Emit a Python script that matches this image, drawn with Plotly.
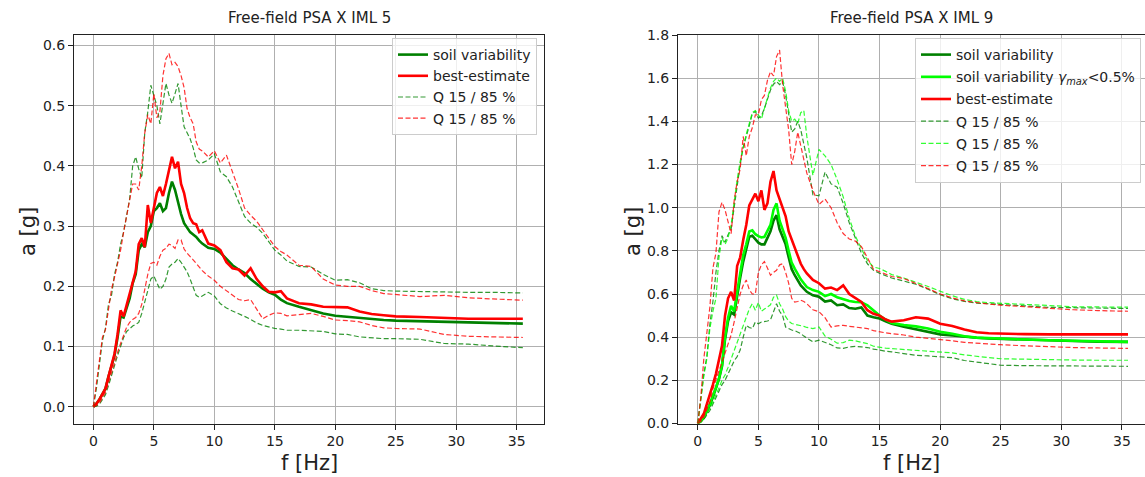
import plotly.graph_objects as go

# ---------------- data ----------------
freq = [0, 0.25, 0.5, 0.75, 1.0, 1.25, 1.5, 1.75, 2.0, 2.25, 2.5, 2.75, 3.0, 3.25, 3.5, 3.75,
        4.0, 4.25, 4.5, 4.75, 5.0, 5.25, 5.5, 5.75, 6.0, 6.25, 6.5, 6.75, 7.0, 7.25, 7.5, 7.75,
        8.0, 8.25, 8.5, 8.75, 9.0, 9.5, 10.0, 10.5, 11.0, 11.5, 12.0, 12.5, 13.0, 13.5, 14.0,
        14.5, 15.0, 15.5, 16.0, 17.0, 18.0, 19.0, 20.0, 21.0, 22.0, 23.0, 24.0, 25.0, 27.0,
        29.0, 31.0, 33.0, 35.5]

# IML 5 (left)
l_soil = [0, 0.005, 0.012, 0.02, 0.03, 0.05, 0.068, 0.085, 0.115, 0.15, 0.148, 0.165, 0.18, 0.205, 0.22, 0.26,
          0.27, 0.265, 0.29, 0.30, 0.325, 0.33, 0.338, 0.325, 0.33, 0.355, 0.374, 0.36, 0.338, 0.32, 0.305, 0.298,
          0.29, 0.286, 0.282, 0.276, 0.271, 0.264, 0.262, 0.256, 0.246, 0.235, 0.228, 0.222, 0.212, 0.204, 0.196,
          0.19, 0.186, 0.178, 0.172, 0.166, 0.16, 0.155, 0.151, 0.149, 0.147, 0.145, 0.144, 0.143, 0.142,
          0.141, 0.140, 0.139, 0.138]
l_best = [0, 0.005, 0.012, 0.02, 0.03, 0.05, 0.07, 0.088, 0.12, 0.16, 0.15, 0.17, 0.185, 0.21, 0.225, 0.27,
          0.28, 0.265, 0.335, 0.305, 0.33, 0.355, 0.365, 0.35, 0.37, 0.39, 0.415, 0.396, 0.407, 0.37, 0.355, 0.33,
          0.313, 0.305, 0.303, 0.29, 0.293, 0.271, 0.268, 0.26, 0.24, 0.23, 0.228, 0.218, 0.23, 0.212, 0.2,
          0.191, 0.19, 0.192, 0.18, 0.172, 0.17, 0.166, 0.165, 0.165, 0.158, 0.154, 0.152, 0.15, 0.149,
          0.147, 0.146, 0.146, 0.146]
l_soil_q85 = [0, 0.03, 0.07, 0.11, 0.13, 0.17, 0.185, 0.22, 0.24, 0.27, 0.29, 0.32, 0.345, 0.40, 0.415, 0.395,
              0.38, 0.455, 0.49, 0.534, 0.515, 0.5, 0.47, 0.5, 0.537, 0.518, 0.504, 0.52, 0.537, 0.5, 0.465, 0.455,
              0.445, 0.43, 0.41, 0.405, 0.405, 0.41, 0.42, 0.39, 0.382, 0.365, 0.34, 0.316, 0.305, 0.298, 0.288,
              0.275, 0.26, 0.252, 0.242, 0.233, 0.232, 0.22, 0.21, 0.211, 0.206, 0.196, 0.193, 0.192, 0.191,
              0.19, 0.19, 0.19, 0.189]
l_soil_q15 = [0, 0.001, 0.004, 0.012, 0.02, 0.035, 0.053, 0.07, 0.085, 0.1, 0.115, 0.125, 0.13, 0.134, 0.137, 0.14,
              0.155, 0.175, 0.195, 0.212, 0.217, 0.205, 0.195, 0.2, 0.212, 0.232, 0.237, 0.24, 0.246, 0.24, 0.232, 0.224,
              0.212, 0.198, 0.185, 0.182, 0.184, 0.19, 0.184, 0.171, 0.164, 0.159, 0.155, 0.15, 0.145, 0.139, 0.135,
              0.132, 0.13, 0.129, 0.127, 0.127, 0.126, 0.125, 0.121, 0.12, 0.116, 0.114, 0.113, 0.113, 0.112,
              0.105, 0.104, 0.101, 0.098]
l_best_q85 = [0, 0.04, 0.08, 0.115, 0.128, 0.16, 0.195, 0.215, 0.238, 0.26, 0.29, 0.315, 0.34, 0.37, 0.37, 0.36,
              0.4, 0.455, 0.485, 0.47, 0.52, 0.48, 0.49, 0.55, 0.578, 0.587, 0.568, 0.572, 0.565, 0.55, 0.53, 0.495,
              0.48, 0.47, 0.44, 0.428, 0.425, 0.415, 0.425, 0.405, 0.418, 0.39, 0.362, 0.33, 0.318, 0.308, 0.295,
              0.28, 0.266, 0.258, 0.252, 0.235, 0.233, 0.212, 0.202, 0.2, 0.2, 0.193, 0.188, 0.186, 0.183,
              0.185, 0.181, 0.179, 0.177]
l_best_q15 = [0, 0.002, 0.006, 0.015, 0.024, 0.04, 0.058, 0.075, 0.09, 0.105, 0.12, 0.132, 0.14, 0.145, 0.148, 0.155,
              0.17, 0.195, 0.22, 0.238, 0.24, 0.235, 0.25, 0.26, 0.263, 0.27, 0.268, 0.263, 0.277, 0.277, 0.262, 0.255,
              0.25, 0.244, 0.238, 0.232, 0.226, 0.217, 0.21, 0.2, 0.193, 0.186, 0.178, 0.176, 0.178, 0.162, 0.146,
              0.152, 0.156, 0.155, 0.151, 0.153, 0.155, 0.15, 0.144, 0.143, 0.141, 0.135, 0.131, 0.13, 0.129,
              0.12, 0.117, 0.116, 0.115]

# IML 9 (right)
r_soil = [0, 0.01, 0.028, 0.055, 0.085, 0.122, 0.16, 0.205, 0.265, 0.39, 0.475, 0.515, 0.505, 0.595, 0.675, 0.75,
          0.81, 0.865, 0.87, 0.855, 0.838, 0.83, 0.83, 0.86, 0.89, 0.94, 0.965, 0.9, 0.86, 0.83, 0.77, 0.715,
          0.687, 0.66, 0.64, 0.625, 0.61, 0.594, 0.587, 0.565, 0.57, 0.548, 0.552, 0.535, 0.532, 0.538, 0.5,
          0.492, 0.486, 0.473, 0.462, 0.448, 0.436, 0.425, 0.413, 0.408, 0.401, 0.397, 0.394, 0.392, 0.387,
          0.384, 0.382, 0.379, 0.378]
r_soil05 = [0, 0.01, 0.03, 0.06, 0.09, 0.13, 0.165, 0.21, 0.27, 0.4, 0.49, 0.545, 0.52, 0.61, 0.69, 0.78,
            0.83, 0.89, 0.895, 0.877, 0.868, 0.862, 0.865, 0.893, 0.92, 0.99, 1.02, 0.94, 0.895, 0.86, 0.8, 0.745,
            0.718, 0.69, 0.668, 0.65, 0.632, 0.618, 0.61, 0.59, 0.6, 0.585, 0.575, 0.568, 0.563, 0.562, 0.548,
            0.525, 0.5, 0.482, 0.466, 0.456, 0.45, 0.44, 0.425, 0.416, 0.404, 0.398, 0.395, 0.393, 0.389,
            0.386, 0.383, 0.38, 0.378]
r_best = [0, 0.02, 0.045, 0.09, 0.13, 0.18, 0.23, 0.29, 0.36, 0.5, 0.58, 0.61, 0.57, 0.73, 0.77, 0.85,
          0.92, 1.01, 1.04, 1.065, 1.03, 1.08, 0.99, 1.02, 1.12, 1.17, 1.08, 1.04, 1.01, 0.96, 0.89, 0.85,
          0.82, 0.78, 0.74, 0.715, 0.695, 0.665, 0.65, 0.625, 0.63, 0.618, 0.64, 0.6, 0.58, 0.563, 0.525,
          0.508, 0.5, 0.482, 0.472, 0.478, 0.492, 0.486, 0.462, 0.452, 0.436, 0.423, 0.418, 0.416, 0.414,
          0.413, 0.413, 0.413, 0.413]
r_soil_q85 = [0, 0.12, 0.23, 0.31, 0.46, 0.565, 0.7, 0.8, 0.87, 0.84, 0.875, 0.9, 1.0, 1.11, 1.2, 1.28,
              1.337, 1.38, 1.435, 1.446, 1.415, 1.425, 1.46, 1.5, 1.545, 1.572, 1.585, 1.57, 1.585, 1.52, 1.44, 1.35,
              1.365, 1.4, 1.36, 1.29, 1.23, 1.06, 1.055, 1.165, 1.11, 1.095, 1.02, 0.93, 0.86, 0.79, 0.74,
              0.71, 0.696, 0.685, 0.674, 0.66, 0.645, 0.622, 0.597, 0.578, 0.566, 0.558, 0.554, 0.552, 0.545,
              0.538, 0.536, 0.534, 0.533]
r_soil05_q85 = [0, 0.11, 0.22, 0.3, 0.44, 0.52, 0.58, 0.77, 0.86, 0.83, 0.86, 0.92, 1.03, 1.13, 1.215, 1.28,
                1.34, 1.39, 1.44, 1.45, 1.43, 1.41, 1.46, 1.51, 1.555, 1.585, 1.6, 1.585, 1.6, 1.54, 1.45, 1.4,
                1.41, 1.39, 1.44, 1.45, 1.33, 1.15, 1.27, 1.24, 1.2, 1.13, 1.05, 0.95, 0.87, 0.81, 0.755,
                0.725, 0.718, 0.705, 0.69, 0.674, 0.655, 0.635, 0.613, 0.592, 0.575, 0.565, 0.56, 0.557, 0.55,
                0.544, 0.541, 0.54, 0.539]
r_best_q85 = [0, 0.12, 0.3, 0.43, 0.54, 0.72, 0.79, 0.98, 1.025, 0.99, 0.93, 0.88, 1.03, 1.12, 1.18, 1.33,
              1.24, 1.33, 1.37, 1.43, 1.43, 1.5, 1.52, 1.59, 1.63, 1.61, 1.7, 1.73, 1.57, 1.47, 1.36, 1.2,
              1.26, 1.35, 1.29, 1.22, 1.16, 1.08, 1.015, 1.04, 1.0, 0.93, 0.88, 0.855, 0.845, 0.82, 0.77,
              0.715, 0.703, 0.692, 0.681, 0.672, 0.65, 0.625, 0.6, 0.582, 0.568, 0.56, 0.553, 0.548, 0.54,
              0.533, 0.527, 0.523, 0.52]
r_soil_q15 = [0, 0.008, 0.02, 0.04, 0.06, 0.09, 0.12, 0.15, 0.18, 0.2, 0.23, 0.26, 0.29, 0.31, 0.34, 0.4,
              0.455, 0.445, 0.44, 0.47, 0.462, 0.47, 0.472, 0.475, 0.48, 0.52, 0.555, 0.52, 0.5, 0.447, 0.44, 0.433,
              0.43, 0.423, 0.417, 0.405, 0.395, 0.378, 0.386, 0.375, 0.365, 0.35, 0.348, 0.355, 0.357, 0.355, 0.352,
              0.345, 0.339, 0.335, 0.332, 0.325, 0.316, 0.313, 0.31, 0.305, 0.292, 0.285, 0.276, 0.27, 0.268,
              0.267, 0.266, 0.265, 0.265]
r_soil05_q15 = [0, 0.01, 0.025, 0.045, 0.07, 0.1, 0.13, 0.165, 0.2, 0.225, 0.26, 0.3, 0.33, 0.37, 0.41, 0.46,
                0.49, 0.53, 0.555, 0.525, 0.56, 0.52, 0.53, 0.54, 0.55, 0.585, 0.595, 0.555, 0.53, 0.495, 0.475, 0.463,
                0.46, 0.458, 0.455, 0.45, 0.445, 0.44, 0.447, 0.405, 0.39, 0.372, 0.375, 0.386, 0.383, 0.378, 0.37,
                0.358, 0.352, 0.349, 0.347, 0.343, 0.34, 0.335, 0.332, 0.327, 0.318, 0.31, 0.305, 0.3, 0.297,
                0.295, 0.294, 0.293, 0.293]
r_best_q15 = [0, 0.01, 0.03, 0.07, 0.1, 0.16, 0.2, 0.25, 0.29, 0.325, 0.36, 0.41, 0.47, 0.54, 0.6, 0.64,
              0.665, 0.62, 0.6, 0.6, 0.7, 0.735, 0.75, 0.72, 0.687, 0.7, 0.71, 0.735, 0.74, 0.7, 0.65, 0.58,
              0.562, 0.565, 0.571, 0.565, 0.555, 0.527, 0.518, 0.49, 0.447, 0.452, 0.455, 0.45, 0.447, 0.442, 0.44,
              0.43, 0.424, 0.42, 0.416, 0.41, 0.4, 0.395, 0.39, 0.383, 0.376, 0.372, 0.368, 0.365, 0.36,
              0.355, 0.352, 0.35, 0.348]

titles = ["Free-field PSA X IML 5", "Free-field PSA X IML 9"]
x_label = "f [Hz]"
y_label = "a [g]"
left_yticks = [0.0, 0.1, 0.2, 0.3, 0.4, 0.5, 0.6]
right_yticks = [0.0, 0.2, 0.4, 0.6, 0.8, 1.0, 1.2, 1.4, 1.6, 1.8]
xticks = [0, 5, 10, 15, 20, 25, 30, 35]

# ---------------- styles ----------------
GREEN = "#008000"
LIME = "#00ff00"
RED = "#ff0000"
FONT = "DejaVu Sans"
W, H = 1145, 477

fig = go.Figure()


def add(x, y, color, name, xa, ya, dash=False, legend="legend", show=True, group=None, rank=1):
    fig.add_trace(go.Scatter(
        x=x, y=y, mode="lines", name=name, xaxis=xa, yaxis=ya,
        line=dict(color=color, width=1.2 if dash else 2.6, dash="5px,2.5px" if dash else "solid"),
        opacity=0.8 if dash else 1.0,
        legend=legend, showlegend=show, legendgroup=group, legendrank=rank,
    ))


# left panel
add(freq, l_soil, GREEN, "soil variability", "x", "y", group="a", rank=1)
add(freq, l_best, RED, "best-estimate", "x", "y", group="b", rank=2)
add(freq, l_soil_q85, GREEN, "Q 15 / 85 %", "x", "y", dash=True, group="c", rank=3)
add(freq, l_soil_q15, GREEN, "Q 15 / 85 %", "x", "y", dash=True, show=False, group="c", rank=3)
add(freq, l_best_q85, RED, "Q 15 / 85 %", "x", "y", dash=True, group="d", rank=4)
add(freq, l_best_q15, RED, "Q 15 / 85 %", "x", "y", dash=True, show=False, group="d", rank=4)

# right panel
gam = "soil variability <i>γ</i><sub><i>max</i></sub>&lt;0.5%"
add(freq, r_soil, GREEN, "soil variability", "x2", "y2", legend="legend2", group="e", rank=1)
add(freq, r_soil05, LIME, gam, "x2", "y2", legend="legend2", group="f", rank=2)
add(freq, r_best, RED, "best-estimate", "x2", "y2", legend="legend2", group="g", rank=3)
add(freq, r_soil_q85, GREEN, "Q 15 / 85 %", "x2", "y2", dash=True, legend="legend2", group="h", rank=4)
add(freq, r_soil_q15, GREEN, "Q 15 / 85 %", "x2", "y2", dash=True, legend="legend2", show=False, group="h", rank=4)
add(freq, r_soil05_q85, LIME, "Q 15 / 85 %", "x2", "y2", dash=True, legend="legend2", group="i", rank=5)
add(freq, r_soil05_q15, LIME, "Q 15 / 85 %", "x2", "y2", dash=True, legend="legend2", show=False, group="i", rank=5)
add(freq, r_best_q85, RED, "Q 15 / 85 %", "x2", "y2", dash=True, legend="legend2", group="j", rank=6)
add(freq, r_best_q15, RED, "Q 15 / 85 %", "x2", "y2", dash=True, legend="legend2", show=False, group="j", rank=6)

# pixel geometry
L1, R1 = 74, 544
L2 = 678
TOP, BOT = 35, 423.5
ydom = [1 - BOT / H, 1 - TOP / H]

axis_common = dict(
    showgrid=True, gridcolor="#b0b0b0", gridwidth=0.8, automargin=False,
    zeroline=False, showline=True, linecolor="#222222", linewidth=1,
    ticks="outside", ticklen=5, tickwidth=1, tickcolor="#222222",
    tickfont=dict(family=FONT, size=14, color="#222222"),
)

fig.update_layout(
    template="none",
    width=W, height=H, margin=dict(l=0, r=0, t=0, b=0, pad=0, autoexpand=False),
    paper_bgcolor="white", plot_bgcolor="white",
    font=dict(family=FONT, color="#222222"),
    xaxis=dict(domain=[L1 / W, R1 / W], range=[-1.6, 37.25], tickvals=xticks,
               anchor="y", mirror=True, **axis_common),
    yaxis=dict(domain=ydom, range=[-0.0279, 0.6175], tickvals=left_yticks,
               ticktext=[f"{v:.1f}" for v in left_yticks], anchor="x", mirror=True, **axis_common),
    xaxis2=dict(domain=[L2 / W, 1.0], range=[-1.63, (W - 698.5) / 12.1], tickvals=xticks,
                anchor="y2", mirror=True, **axis_common),
    yaxis2=dict(domain=ydom, range=[0, 1.8], tickvals=right_yticks,
                ticktext=[f"{v:.1f}" for v in right_yticks], anchor="x2", mirror=False, **axis_common),
    legend=dict(x=537 / W, xanchor="right", y=1 - 38 / H, yanchor="top",
                bgcolor="rgba(255,255,255,0.8)", bordercolor="#cccccc", borderwidth=1,
                font=dict(family=FONT, size=14, color="#222222"),
                traceorder="grouped", tracegroupgap=0, itemwidth=30),
    legend2=dict(x=1141 / W, xanchor="right", y=1 - 38 / H, yanchor="top",
                 bgcolor="rgba(255,255,255,0.8)", bordercolor="#cccccc", borderwidth=1,
                 font=dict(family=FONT, size=14, color="#222222"),
                 traceorder="grouped", tracegroupgap=1, itemwidth=30),
    showlegend=True,
)

ann = []
for title, cx in zip(titles, [(L1 + R1) / 2, 911]):
    ann.append(dict(text=title, x=cx / W, y=1 - 18 / H, xref="paper", yref="paper",
                    showarrow=False, font=dict(family=FONT, size=15, color="#222222"),
                    xanchor="center", yanchor="middle"))
for cx in [(L1 + R1) / 2, 911]:
    ann.append(dict(text=x_label, x=cx / W, y=1 - 463 / H, xref="paper", yref="paper",
                    showarrow=False, font=dict(family=FONT, size=21, color="#222222"),
                    xanchor="center", yanchor="middle"))
for cx in [28, 633]:
    ann.append(dict(text=y_label, x=cx / W, y=1 - 232 / H, xref="paper", yref="paper",
                    showarrow=False, textangle=-90, font=dict(family=FONT, size=21, color="#222222"),
                    xanchor="center", yanchor="middle"))
fig.update_layout(annotations=ann)

fig.write_html("out.html")
